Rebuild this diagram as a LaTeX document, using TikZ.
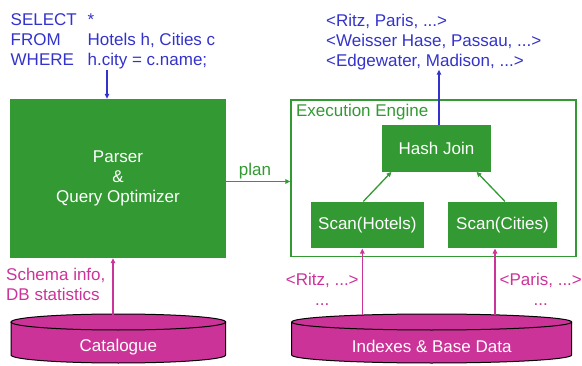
\documentclass[tikz,border=0pt]{standalone}
\usepackage{fontspec}
\setmainfont{Liberation Sans}
\usepackage{tikz}
\usetikzlibrary{arrows.meta}
\definecolor{qgreen}{HTML}{339933}
\definecolor{qblue}{HTML}{3333CC}
\definecolor{qpink}{HTML}{CC3399}

\begin{document}
\begin{tikzpicture}[x=1pt,y=1pt,>={Triangle[length=5pt,width=4.5pt]},
  font=\fontsize{17}{20}\selectfont,
  box/.style={fill=qgreen,text=white,inner sep=0pt},
  gline/.style={qgreen,line width=1.3pt},
  bline/.style={qblue,line width=1.3pt},
  pline/.style={qpink,line width=1.3pt},
  cyl/.style={fill=qpink,draw=black,line width=1pt}]
\useasboundingbox (0,0) rectangle (582,365);
% query text and result tuples
\node[anchor=north west,inner sep=0pt,text=qblue] (query) at (10.5,353.3)
  {\begin{tabular}{@{}p{77pt}@{}l@{}}SELECT & *\\ FROM & Hotels h, Cities c\\ WHERE & h.city = c.name;\end{tabular}};
\node[anchor=north west,inner sep=0pt,text=qblue,align=left] (result) at (326,351.5)
  {<Ritz, Paris, ...>\\<Weisser Hase, Passau, ...>\\<Edgewater, Madison, ...>};
% boxes
\node[box,minimum width=216pt,minimum height=159pt,align=center] (parser) at (118,186.5)
  {Parser\\\&\\Query Optimizer};
\node[draw=qgreen,line width=1.3pt,minimum width=285pt,minimum height=156.7pt,inner sep=0pt] (engine) at (433.5,186.7) {};
\node[anchor=north west,inner sep=0pt,text=qgreen] (engtitle) at ([xshift=5.5pt,yshift=-5pt]engine.north west) {Execution Engine};
\node[box,minimum width=108.4pt,minimum height=46.7pt] (hash) at (436.5,216.7) {Hash Join};
\node[box,minimum width=113.3pt,minimum height=46.7pt] (scanh) at (367.3,140) {Scan(Hotels)};
\node[box,minimum width=108.3pt,minimum height=46.7pt] (scanc) at (502.5,140) {Scan(Cities)};
% cylinders
\draw[cyl] (11,43) -- (11,10) arc[start angle=180,end angle=360,x radius=107.35,y radius=8] -- (225.7,43);
\draw[cyl] (118.35,43) ellipse[x radius=107.35,y radius=8];
\node[text=white] (cat) at (118.35,18.3) {Catalogue};
\draw[cyl] (291.7,43) -- (291.7,10) arc[start angle=180,end angle=360,x radius=140,y radius=8] -- (571.7,43);
\draw[cyl] (431.7,43) ellipse[x radius=140,y radius=8];
\node[text=white] (idx) at (431.7,18.3) {Indexes \& Base Data};
\coordinate (catout) at (113,50);
\coordinate (idxh) at (362.3,50);
\coordinate (idxc) at (495,50);
\coordinate (qin) at (107,295);
% connectors
\draw[bline,->] (qin) -- (qin |- parser.north);
\draw[bline,->] ([xshift=2.5pt]hash.north) -- ([xshift=2.5pt]hash.north |- result.south);
\draw[gline,->] ([yshift=-3pt]parser.east) -- ([yshift=-3pt]parser.east -| engine.west)
  node[pos=0.45,above,inner sep=2pt,text=qgreen] (plan) {plan};
\draw[gline,->] ([xshift=-4pt]scanh.north) -- ([xshift=-45pt]hash.south);
\draw[gline,->] ([xshift=2.5pt]scanc.north) -- ([xshift=40pt]hash.south);
\draw[pline,->] (catout) -- (catout |- parser.south);
\draw[pline,->] (idxh) -- (idxh |- scanh.south);
\draw[pline,->] (idxc) -- (idxc |- scanc.south);
% data labels
\node[anchor=north west,inner sep=0pt,text=qpink,align=left] (schema) at (6,96.7) {Schema info,\\DB statistics};
\node[anchor=north,inner sep=0pt,text=qpink,align=center] (ritz) at (322.3,92.4) {<Ritz, ...>\\...};
\node[anchor=north,inner sep=0pt,text=qpink,align=center] (paris) at (540.8,92.4) {<Paris, ...>\\...};
\end{tikzpicture}
\end{document}
